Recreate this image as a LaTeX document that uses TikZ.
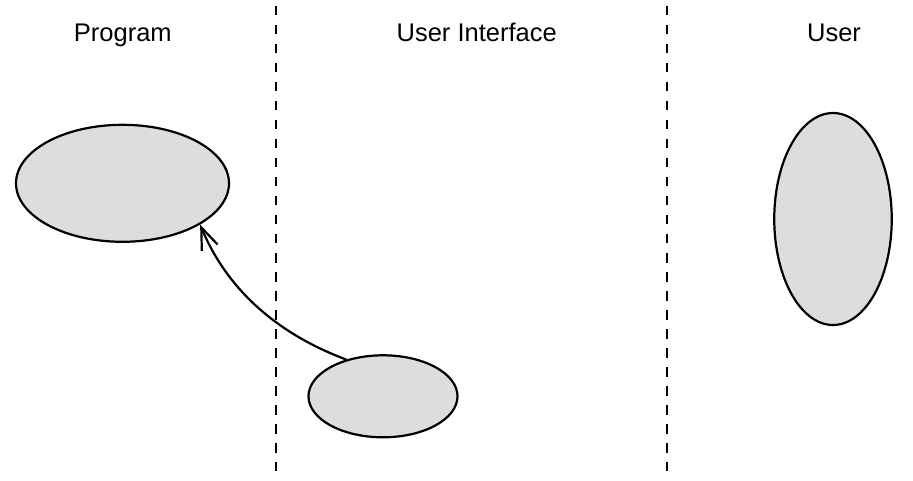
\documentclass[tikz,border=0pt]{standalone}
\usepackage{fontspec}
\setmainfont{Liberation Sans}
\usetikzlibrary{arrows.meta,shapes.geometric}
\definecolor{blobfill}{HTML}{DDDDDD}
\tikzset{
  blob/.style={ellipse, draw=black, line width=2.2pt, fill=blobfill, inner sep=0pt},
  lane/.style={line width=2.2pt, dash pattern=on 9.5pt off 9.5pt},
  title/.style={anchor=base, inner sep=0pt, font=\fontsize{25.5}{30}\selectfont},
  link/.style={line width=2.2pt, -{Straight Barb[length=22pt, width=17pt, line width=2.2pt]}}
}
\begin{document}
\begin{tikzpicture}[x=1pt, y=-1pt]
\useasboundingbox (0,0) rectangle (913,481);
% lanes
\coordinate (l1t) at (276,6);
\coordinate (l1b) at (276,471);
\coordinate (l2t) at (667,6);
\coordinate (l2b) at (667,471);
\draw[lane] (l1t) -- (l1b);
\draw[lane] (l2t) -- (l2b);
% titles
\node[title] (tprog) at (122.8,41.7) {Program};
\node[title] (tui) at (476.7,41.7) {User Interface};
\node[title] (tuser) at (834,41.7) {User};
% ellipses
\node[blob, minimum width=213pt, minimum height=117pt] (prog) at (122.5,183.3) {};
\node[blob, minimum width=149pt, minimum height=82pt] (ui) at (383,396.3) {};
\node[blob, minimum width=117.5pt, minimum height=212pt] (user) at (833,219) {};
% connector
\draw[link] (ui.135) .. controls (275.7,333.3) and (226.3,288) .. (prog.-28);
\end{tikzpicture}
\end{document}
